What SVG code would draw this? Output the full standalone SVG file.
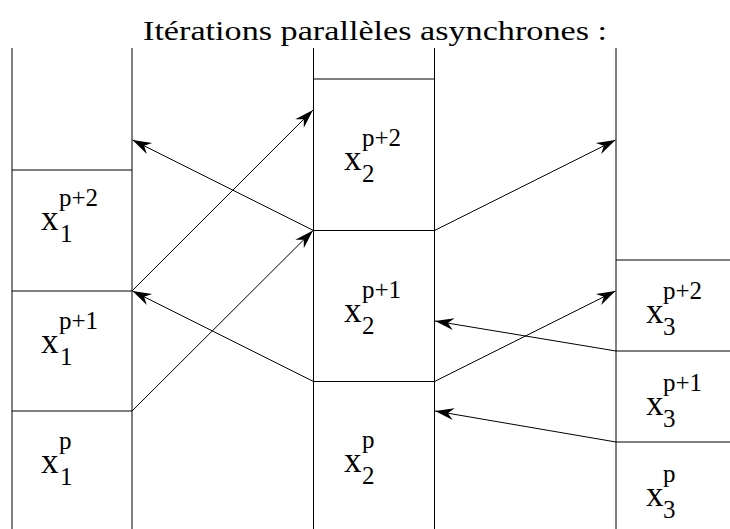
<svg xmlns="http://www.w3.org/2000/svg" width="730" height="529" viewBox="0 0 730 529">
  <rect width="730" height="529" fill="#fff"/>
  <text x="143" y="40" font-family="Liberation Serif" font-size="28" fill="#000" textLength="464" lengthAdjust="spacingAndGlyphs">Itérations parallèles asynchrones :</text>

  <g id="P1" stroke="#000" stroke-width="1" fill="none">
    <line x1="12" y1="48" x2="12" y2="529"/>
    <line x1="132" y1="48" x2="132" y2="529"/>
  </g>
  <g id="P2" stroke="#000" stroke-width="1" fill="none">
    <line x1="313.5" y1="48" x2="313.5" y2="529"/>
    <line x1="434.5" y1="48" x2="434.5" y2="529"/>
    <line x1="313.5" y1="79" x2="434.5" y2="79"/>
  </g>
  <g id="P3" stroke="#000" stroke-width="1" fill="none">
    <line x1="616" y1="48" x2="616" y2="529"/>
  </g>

  <g id="x1p2" fill="#000">
    <line x1="12" y1="170" x2="132" y2="170" stroke="#000"/>
    <text font-family="Liberation Serif" font-size="35" x="41" y="230">x</text>
    <text font-family="Liberation Serif" font-size="25" x="59" y="206">p+2</text>
    <text font-family="Liberation Serif" font-size="25" x="60" y="242">1</text>
  </g>
  <g id="x1p1" fill="#000">
    <line x1="12" y1="291" x2="132" y2="291" stroke="#000"/>
    <text font-family="Liberation Serif" font-size="35" x="41" y="353">x</text>
    <text font-family="Liberation Serif" font-size="25" x="59" y="329">p+1</text>
    <text font-family="Liberation Serif" font-size="25" x="60" y="365">1</text>
  </g>
  <g id="x1p" fill="#000">
    <line x1="12" y1="411" x2="132" y2="411" stroke="#000"/>
    <text font-family="Liberation Serif" font-size="35" x="41" y="473">x</text>
    <text font-family="Liberation Serif" font-size="25" x="59" y="449">p</text>
    <text font-family="Liberation Serif" font-size="25" x="60" y="485">1</text>
  </g>

  <g id="x2p2" fill="#000">
    <text font-family="Liberation Serif" font-size="35" x="344" y="170">x</text>
    <text font-family="Liberation Serif" font-size="25" x="362" y="146">p+2</text>
    <text font-family="Liberation Serif" font-size="25" x="362" y="182">2</text>
  </g>
  <g id="x2p1" fill="#000">
    <line x1="313.5" y1="230.5" x2="434.5" y2="230.5" stroke="#000"/>
    <text font-family="Liberation Serif" font-size="35" x="344" y="322">x</text>
    <text font-family="Liberation Serif" font-size="25" x="362" y="298">p+1</text>
    <text font-family="Liberation Serif" font-size="25" x="362" y="334">2</text>
  </g>
  <g id="x2p" fill="#000">
    <line x1="313.5" y1="381.5" x2="434.5" y2="381.5" stroke="#000"/>
    <text font-family="Liberation Serif" font-size="35" x="344" y="472">x</text>
    <text font-family="Liberation Serif" font-size="25" x="362" y="448">p</text>
    <text font-family="Liberation Serif" font-size="25" x="362" y="484">2</text>
  </g>

  <g id="x3p2" fill="#000">
    <line x1="616" y1="260" x2="730" y2="260" stroke="#000"/>
    <text font-family="Liberation Serif" font-size="35" x="646" y="323">x</text>
    <text font-family="Liberation Serif" font-size="25" x="663" y="299">p+2</text>
    <text font-family="Liberation Serif" font-size="25" x="663" y="335">3</text>
  </g>
  <g id="x3p1" fill="#000">
    <line x1="616" y1="351" x2="730" y2="351" stroke="#000"/>
    <text font-family="Liberation Serif" font-size="35" x="646" y="415">x</text>
    <text font-family="Liberation Serif" font-size="25" x="663" y="391">p+1</text>
    <text font-family="Liberation Serif" font-size="25" x="663" y="427">3</text>
  </g>
  <g id="x3p" fill="#000">
    <line x1="616" y1="442" x2="730" y2="442" stroke="#000"/>
    <text font-family="Liberation Serif" font-size="35" x="646" y="506">x</text>
    <text font-family="Liberation Serif" font-size="25" x="663" y="482">p</text>
    <text font-family="Liberation Serif" font-size="25" x="663" y="518">3</text>
  </g>

  <g id="connectors">
    <g stroke="#000" stroke-width="1" fill="none">
      <line x1="313.5" y1="230.5" x2="132.5" y2="140"/>
      <line x1="132" y1="291" x2="313" y2="110"/>
      <line x1="132" y1="411" x2="313" y2="230.5"/>
      <line x1="313.5" y1="381.5" x2="132.5" y2="291"/>
      <line x1="434.5" y1="230.5" x2="615.5" y2="140"/>
      <line x1="434.5" y1="381.5" x2="615.5" y2="291"/>
      <line x1="616" y1="351" x2="435" y2="321"/>
      <line x1="616" y1="442" x2="435" y2="411"/>
    </g>
    <g fill="#000" stroke="none">
      <path d="M132.5,140 L152.2,143.1 L144.1,145.8 L146.8,153.9 Z"/>
      <path d="M313,110 L303.8,127.7 L303.8,119.2 L295.3,119.2 Z"/>
      <path d="M313,230.5 L303.8,248.2 L303.8,239.7 L295.3,239.7 Z"/>
      <path d="M132.5,291 L152.2,294.1 L144.1,296.8 L146.8,304.9 Z"/>
      <path d="M615.5,140 L601.2,153.9 L603.9,145.8 L595.8,143.1 Z"/>
      <path d="M615.5,291 L601.2,304.9 L603.9,296.8 L595.8,294.1 Z"/>
      <path d="M435,321 L454.7,318.2 L447.8,323.1 L452.8,330 Z"/>
      <path d="M435,411 L454.7,408.3 L447.8,413.2 L452.7,420.1 Z"/>
    </g>
  </g>
</svg>
